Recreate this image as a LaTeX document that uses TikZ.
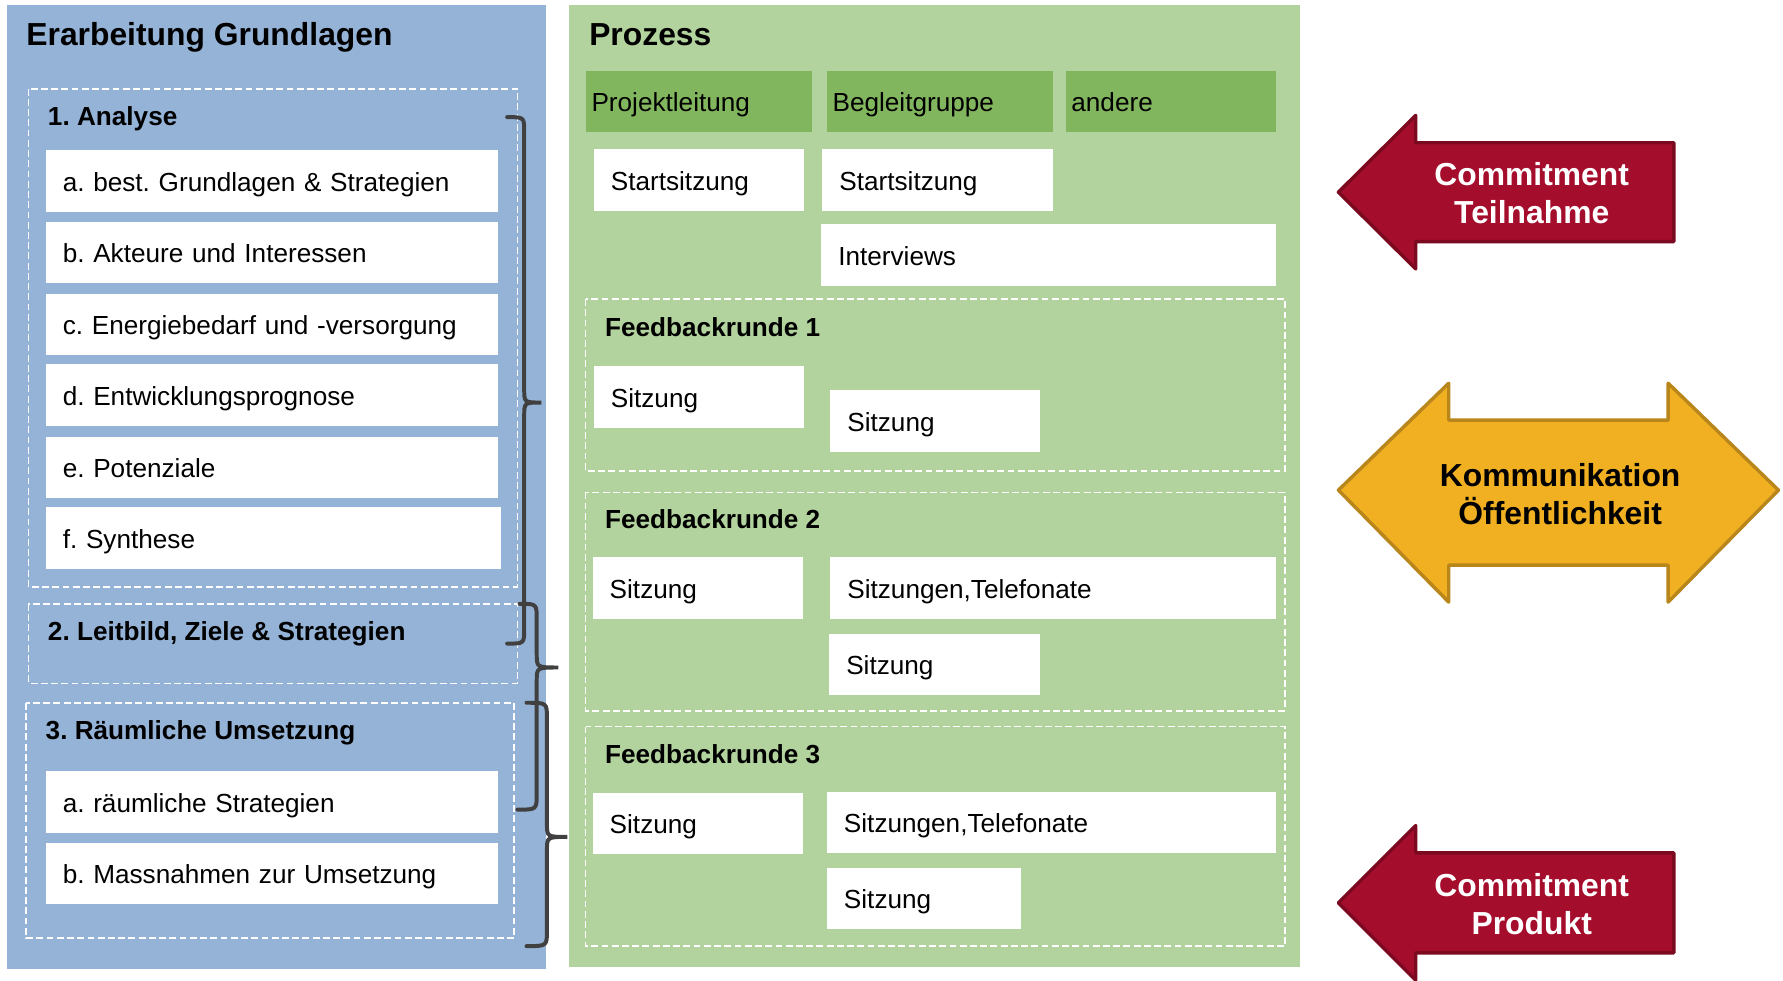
\documentclass[tikz,border=0pt]{standalone}
\usepackage{fontspec}
\setmainfont{Liberation Sans}
\frenchspacing
\usetikzlibrary{positioning}
\definecolor{panelblue}{HTML}{95B3D7}
\definecolor{panelgreen}{HTML}{B3D39E}
\definecolor{rolegreen}{HTML}{82B65E}
\definecolor{bracegray}{HTML}{404040}
\definecolor{commitred}{HTML}{A50D2C}
\definecolor{commitdark}{HTML}{7B0A20}
\definecolor{infogold}{HTML}{F0B022}
\definecolor{infodark}{HTML}{B8861A}

\tikzset{
  panelhead/.style={anchor=base west, inner sep=0pt, font=\bfseries\fontsize{28}{33}\selectfont},
  grouphead/.style={anchor=base west, inner sep=0pt, font=\bfseries\fontsize{23}{27}\selectfont},
  itembox/.style={anchor=north west, fill=white, minimum height=54pt,
    inner xsep=15pt, inner ysep=0pt, text width=#1, align=left,
    text height=19pt, text depth=1pt, font=\fontsize{23}{27}\selectfont},
  rolebox/.style={itembox=#1, fill=rolegreen, inner xsep=5pt},
  dashframe/.style={draw=white, line width=1.5pt, dash pattern=on 6pt off 3pt},
  bracket/.style={draw=bracegray, line width=3.5pt, line cap=round},
  arrowlabel/.style={align=center, inner sep=0pt, font=\bfseries\fontsize{28}{33}\selectfont}
}

\begin{document}
\begin{tikzpicture}[x=1pt, y=-1pt]
  \useasboundingbox (0,0) rectangle (1568,862);
  % Panels
  \fill[panelblue] (6,4) rectangle (480,852);
  \fill[panelgreen] (500,4) rectangle (1143,850);
  \node[panelhead] (grundlagen) at (23,40) {Erarbeitung Grundlagen};
  \node[panelhead] (prozess) at (518,40) {Prozess};

  % Left column
  \draw[dashframe] (25,78) rectangle (455,516);
  \node[grouphead] (analyse) at (42,110.5) {1. Analyse};
  \node[itembox=368pt] (ana) at (40,132) {a. best. Grundlagen \& Strategien};
  \node[itembox=368pt] (anb) at (40,195) {b. Akteure und Interessen};
  \node[itembox=368pt] (anc) at (40,258) {c. Energiebedarf und -versorgung};
  \node[itembox=368pt] (and) at (40,320) {d. Entwicklungsprognose};
  \node[itembox=368pt] (ane) at (40,384) {e. Potenziale};
  \node[itembox=370pt] (anf) at (40,446) {f. Synthese};

  \draw[dashframe] (25,531) rectangle (455,601);
  \node[grouphead] (leitbild) at (42,563.5) {2. Leitbild, Ziele \& Strategien};

  \draw[dashframe] (23,618) rectangle (452,825);
  \node[grouphead] (umsetzung) at (40,650.5) {3. Räumliche Umsetzung};
  \node[itembox=368pt] (uma) at (40,678) {a. räumliche Strategien};
  \node[itembox=368pt] (umb) at (40,741) {b. Massnahmen zur Umsetzung};

  % Braces
  \draw[bracket] (446,103) .. controls (461,103) .. (461,116) -- (461,342)
    .. controls (461,354) .. (476,354) .. controls (461,354) .. (461,366)
    -- (461,553) .. controls (461,566) .. (446,566);
  \draw[bracket] (457,531) .. controls (472,531) .. (472,545) -- (472,575)
    .. controls (472,587) .. (491,587) .. controls (472,587) .. (472,599)
    -- (472,698) .. controls (472,712) .. (455,712);
  \draw[bracket] (463,618) .. controls (481,618) .. (481,632) -- (481,724)
    .. controls (481,736) .. (499,736) .. controls (481,736) .. (481,748)
    -- (481,818) .. controls (481,832) .. (463,832);

  % Right column
  \node[rolebox=189pt] (projekt) at (515,62) {Projektleitung};
  \node[rolebox=189pt] (begleit) at (727,62) {Begleitgruppe};
  \node[rolebox=175pt] (andere) at (937,62) {andere};
  \node[itembox=155pt] (startpl) at (522,131) {Startsitzung};
  \node[itembox=173pt] (startbg) at (723,131) {Startsitzung};
  \node[itembox=370pt] (interviews) at (722,197) {Interviews};

  \draw[dashframe] (515,263) rectangle (1130,414);
  \node[grouphead] (feedeins) at (532,295.5) {Feedbackrunde 1};
  \node[itembox=155pt] (fepl) at (522,322) {Sitzung};
  \node[itembox=154pt] (febg) at (730,343) {Sitzung};

  \draw[dashframe] (515,433) rectangle (1130,625);
  \node[grouphead] (feedzwei) at (532,464.5) {Feedbackrunde 2};
  \node[itembox=155pt] (fzpl) at (521,490) {Sitzung};
  \node[itembox=362pt] (fzbg) at (730,490) {Sitzungen,Telefonate};
  \node[itembox=155pt] (fzan) at (729,557) {Sitzung};

  \draw[dashframe] (515,639) rectangle (1130,832);
  \node[grouphead] (feeddrei) at (532,671.5) {Feedbackrunde 3};
  \node[itembox=155pt] (fdpl) at (521,697) {Sitzung};
  \node[itembox=365pt] (fdbg) at (727,696) {Sitzungen,Telefonate};
  \node[itembox=141pt] (fdan) at (727,763) {Sitzung};

  % Arrows
  \draw[fill=commitred, draw=commitdark, line width=3pt, line join=round]
    (1177,169) -- (1245,101.5) -- (1245,125.5) -- (1472,125.5)
    -- (1472,212.5) -- (1245,212.5) -- (1245,236.5) -- cycle;
  \node[arrowlabel, text=white] (teilnahme) at (1347,170) {Commitment\\Teilnahme};

  \draw[fill=infogold, draw=infodark, line width=3pt, line join=round]
    (1177,431) -- (1274,337) -- (1274,369.5) -- (1467,369.5) -- (1467,337)
    -- (1564,431) -- (1467,529.5) -- (1467,497) -- (1274,497) -- (1274,529.5) -- cycle;
  \node[arrowlabel] (kommunikation) at (1372,434.5) {Kommunikation\\Öffentlichkeit};

  \draw[fill=commitred, draw=commitdark, line width=3pt, line join=round]
    (1177,794) -- (1245,726) -- (1245,750) -- (1472,750)
    -- (1472,838) -- (1245,838) -- (1245,862) -- cycle;
  \node[arrowlabel, text=white] (produkt) at (1347,795) {Commitment\\Produkt};
\end{tikzpicture}
\end{document}
